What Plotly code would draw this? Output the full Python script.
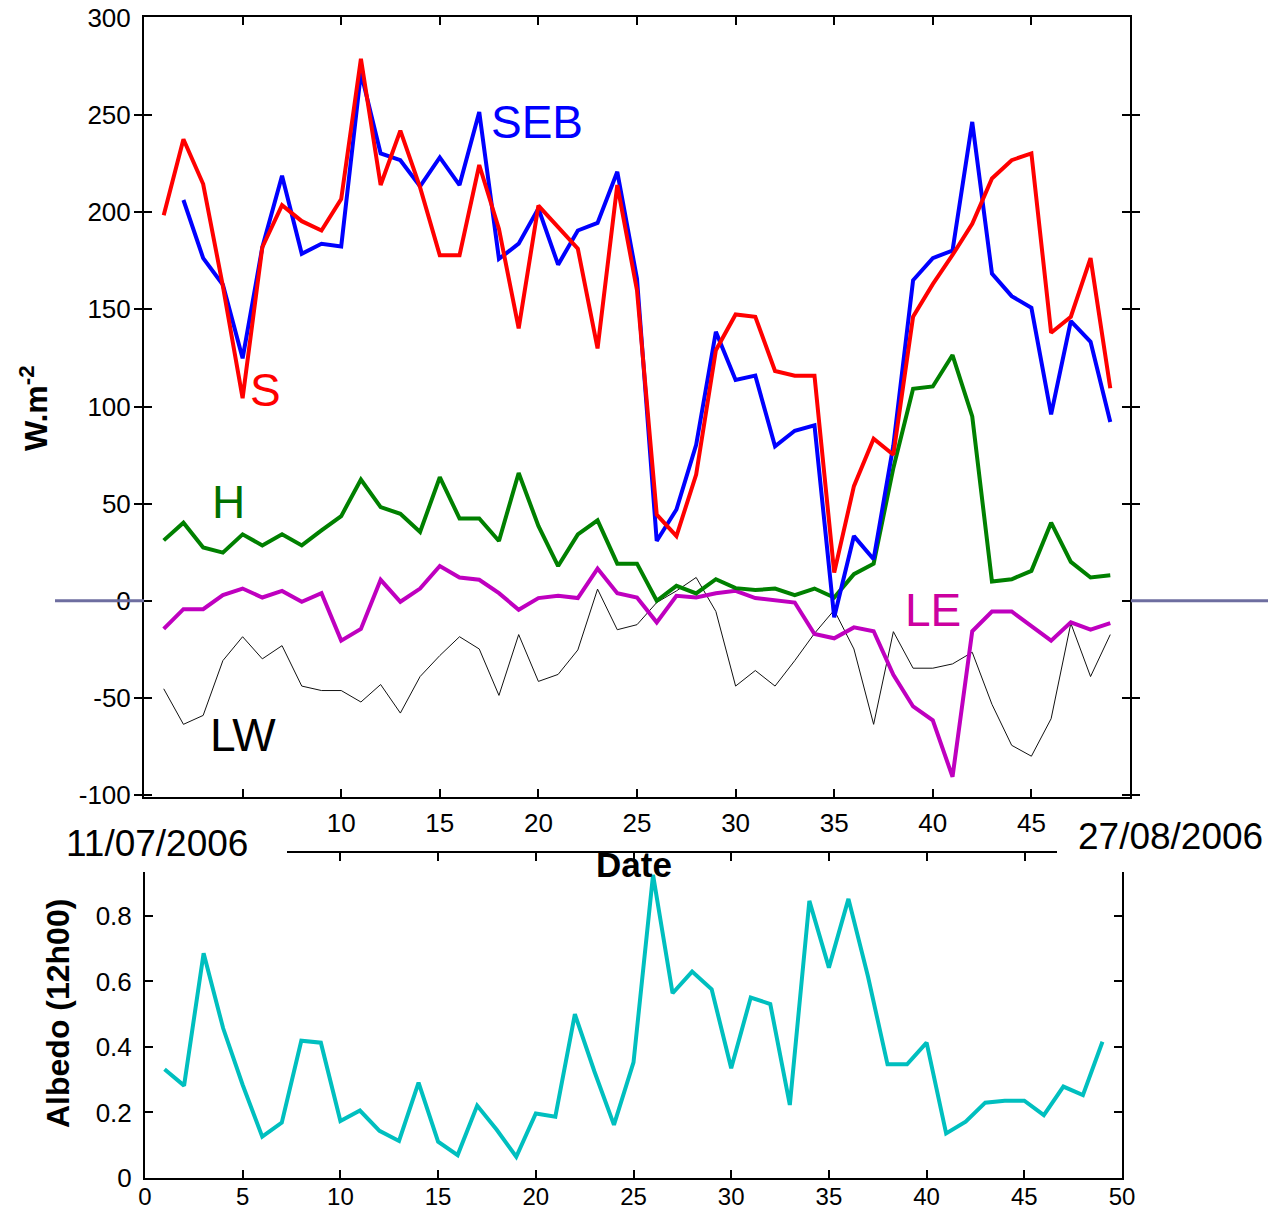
import plotly.graph_objects as go

# Day index of the campaign (11/07/2006 .. 27/08/2006)
days = list(range(1, 50))

# Daily mean surface energy budget terms (W.m-2)
seb = [None, 206.3, 176.4, 162.7, 124.8, 182.0, 218.8, 178.6, 183.8, 182.4,
       271.8, 230.3, 226.8, 213.3, 228.2, 214.0, 251.6, 176.0, 183.8, 202.0,
       173.0, 190.6, 194.5, 220.8, 165.8, 30.8, 47.0, 80.3, 138.5, 113.7,
       115.9, 79.5, 87.5, 90.3, -8.5, 33.3, 21.4, 80.0, 165.0, 176.4,
       180.3, 246.5, 168.4, 156.8, 150.8, 96.0, 144.0, 133.3, 92.0]

s_net = [198.5, 237.6, 214.5, 162.0, 104.3, 182.0, 203.6, 195.4, 190.6, 206.8,
         279.0, 214.0, 242.0, 212.8, 177.8, 177.8, 224.3, 191.4, 140.2, 203.4,
         192.3, 181.2, 129.9, 214.0, 159.8, 44.4, 33.3, 65.0, 129.0, 147.4,
         146.2, 118.3, 115.9, 115.9, 14.5, 59.0, 83.4, 75.2, 146.2, 163.0,
         178.0, 194.0, 217.4, 226.8, 230.3, 138.0, 146.2, 176.4, 109.4]

h_flux = [31.1, 40.2, 27.4, 24.8, 34.2, 28.5, 34.2, 28.5, 36.2, 43.6,
          62.4, 48.2, 44.8, 35.4, 63.6, 42.4, 42.4, 30.8, 65.8, 38.5,
          17.9, 34.2, 41.4, 19.1, 19.1, 0.0, 7.7, 3.8, 11.1, 6.5,
          5.5, 6.3, 2.9, 6.3, 1.7, 13.7, 19.1, 68.4, 109.1, 110.3,
          126.5, 94.9, 9.9, 11.1, 15.4, 40.2, 20.0, 12.0, 13.2]

le_flux = [-14.5, -4.3, -4.3, 2.9, 6.3, 1.7, 5.1, -0.5, 3.9, -20.5,
           -14.5, 10.8, -0.5, 6.3, 17.9, 12.0, 10.8, 3.9, -4.6, 1.4,
           2.6, 1.4, 16.6, 3.9, 1.7, -11.1, 2.6, 1.7, 3.9, 5.1,
           1.4, 0.3, -0.9, -17.1, -19.3, -13.7, -15.7, -38.1, -54.4, -61.5,
           -90.6, -15.7, -5.5, -5.5, -13.3, -20.5, -11.1, -14.9, -11.5]

lw_net = [-45.3, -63.6, -59.0, -30.8, -18.5, -29.9, -23.1, -43.9, -46.2, -46.2,
          -52.1, -43.1, -57.8, -39.0, -28.2, -18.5, -24.8, -48.7, -17.4, -41.5,
          -37.9, -25.3, 6.0, -14.9, -12.3, -0.9, 5.1, 12.0, -5.5, -43.9,
          -35.9, -43.9, -30.8, -16.8, -4.8, -24.8, -63.6, -15.9, -34.7, -34.7,
          -32.5, -26.5, -53.3, -74.4, -80.0, -60.7, -11.6, -39.0, -17.4]

# Surface albedo at 12h00
albedo = [0.332, 0.282, 0.686, 0.457, 0.284, 0.126, 0.169, 0.419, 0.413, 0.174,
          0.206, 0.144, 0.113, 0.291, 0.111, 0.070, 0.221, 0.147, 0.065, 0.197,
          0.187, 0.500, 0.325, 0.162, 0.353, 0.925, 0.564, 0.630, 0.576, 0.335,
          0.551, 0.531, 0.223, 0.846, 0.642, 0.852, 0.615, 0.347, 0.347, 0.413,
          0.136, 0.172, 0.230, 0.236, 0.236, 0.192, 0.279, 0.253, 0.416]

top_xticks = list(range(0, 51, 5))
top_xlabels = list(range(10, 46, 5))
top_yticks = list(range(-100, 301, 50))
top_ytext = [str(v) for v in top_yticks]
bot_xticks = list(range(0, 51, 5))
bot_xtext = [str(v) for v in bot_xticks]
bot_yticks = [0, 0.2, 0.4, 0.6, 0.8]
bot_ytext = ["0", "0.2", "0.4", "0.6", "0.8"]
date_ticks = list(range(10, 46, 5))

FONT = "Liberation Sans, Arial, sans-serif"
W, H = 1268, 1213


def px(x):
    return x / W


def py(y):
    return 1 - y / H


fig = go.Figure()

fig.add_trace(go.Scatter(x=days, y=lw_net, mode="lines",
                         line=dict(color="#111111", width=1), xaxis="x", yaxis="y"))
fig.add_trace(go.Scatter(x=days, y=le_flux, mode="lines",
                         line=dict(color="#BF00BF", width=4), xaxis="x", yaxis="y"))
fig.add_trace(go.Scatter(x=days, y=h_flux, mode="lines",
                         line=dict(color="#008000", width=4), xaxis="x", yaxis="y"))
fig.add_trace(go.Scatter(x=days, y=seb, mode="lines",
                         line=dict(color="#0000FF", width=4), xaxis="x", yaxis="y"))
fig.add_trace(go.Scatter(x=days, y=s_net, mode="lines",
                         line=dict(color="#FF0000", width=4), xaxis="x", yaxis="y"))
fig.add_trace(go.Scatter(x=days, y=albedo, mode="lines",
                         line=dict(color="#00BFBF", width=4), xaxis="x2", yaxis="y2"))
# carriers for the stand-alone date axis and the day-number labels
fig.add_trace(go.Scatter(x=[], y=[], mode="lines", xaxis="x3", yaxis="y3",
                         hoverinfo="skip"))
fig.add_trace(go.Scatter(x=[], y=[], mode="lines", xaxis="x4", yaxis="y",
                         hoverinfo="skip"))

axis_common = dict(showline=True, linecolor="black", linewidth=2, ticks="inside",
                   ticklen=8, tickwidth=2, tickcolor="black", showgrid=False,
                   zeroline=False, automargin=False,
                   tickfont=dict(family=FONT, size=26, color="black"))

fig.update_layout(
    template="none",
    width=W, height=H,
    margin=dict(l=0, r=0, t=0, b=0, pad=0),
    paper_bgcolor="white", plot_bgcolor="white",
    showlegend=False,
    font=dict(family=FONT, color="black"),
    xaxis=dict(domain=[px(144), px(1130)], range=[0, 50], anchor="y",
               tickmode="array", tickvals=top_xticks, showticklabels=False,
               mirror="allticks", **axis_common),
    # day numbers printed under the flux panel
    xaxis4=dict(overlaying="x", range=[0, 50], anchor="y", side="bottom",
                tickmode="array", tickvals=top_xlabels,
                ticktext=[str(v) for v in top_xlabels],
                showline=False, ticks="", showgrid=False, zeroline=False,
                automargin=False, ticklabelstandoff=8,
                tickfont=dict(family=FONT, size=26, color="black")),
    yaxis=dict(domain=[py(797), py(17)], range=[-101, 300.5], anchor="x",
               tickmode="array", tickvals=top_yticks, ticktext=top_ytext,
               mirror="allticks", ticklabelstandoff=6, **axis_common),
    xaxis2=dict(domain=[px(145), px(1122)], range=[0, 50], anchor="y2",
                tickmode="array", tickvals=bot_xticks, ticktext=bot_xtext,
                ticklabelstandoff=-4, **axis_common),
    yaxis2=dict(domain=[py(1178), py(872)], range=[0, 0.934], anchor="x2",
                tickmode="array", tickvals=bot_yticks, ticktext=bot_ytext,
                mirror="allticks", ticklabelstandoff=6, **axis_common),
    xaxis3=dict(domain=[px(287), px(1057)], range=[7.292, 46.635], anchor="y3",
                tickmode="array", tickvals=date_ticks, showticklabels=False,
                showline=True, linecolor="black", linewidth=2, ticks="outside",
                ticklen=8, tickwidth=2, tickcolor="black", showgrid=False,
                zeroline=False, automargin=False),
    yaxis3=dict(domain=[py(851), py(849)], range=[0, 1], anchor="x3",
                visible=False, automargin=False),
)
fig.update_layout(xaxis2_tickfont_size=24)

# zero reference line on either side of the flux panel
zero_color = "#6E6EA0"
fig.add_shape(type="line", xref="paper", yref="y", x0=px(55), x1=px(144), y0=0, y1=0,
              line=dict(color=zero_color, width=3))
fig.add_shape(type="line", xref="paper", yref="y", x0=px(1131), x1=1, y0=0, y1=0,
              line=dict(color=zero_color, width=3))

labels = [
    ("SEB", 19.95, 246.7, "#0000FF"),
    ("S", 6.14, 108.7, "#FF0000"),
    ("H", 4.26, 50.8, "#007000"),
    ("LE", 40.0, -4.6, "#CC00A0"),
    ("LW", 5.03, -69.2, "#000000"),
]
for text, x, y, color in labels:
    fig.add_annotation(text=text, x=x, y=y, xref="x", yref="y", showarrow=False,
                       xanchor="center", yanchor="middle",
                       font=dict(family=FONT, size=46, color=color))

paper_texts = [
    ("11/07/2006", 157, 843, 37, 0),
    ("27/08/2006", 1170, 836, 37, 0),
    ("<b>Date</b>", 634, 864, 35, 0),
    ("<b>W.m<sup>-2</sup></b>", 34, 408, 32, -90),
    ("<b>Albedo (12h00)</b>", 58, 1014, 32, -90),
]
for text, x, y, size, angle in paper_texts:
    fig.add_annotation(text=text, x=px(x), y=py(y), xref="paper", yref="paper",
                       showarrow=False, xanchor="center", yanchor="middle",
                       textangle=angle,
                       font=dict(family=FONT, size=size, color="black"))

fig.write_html("out.html")
